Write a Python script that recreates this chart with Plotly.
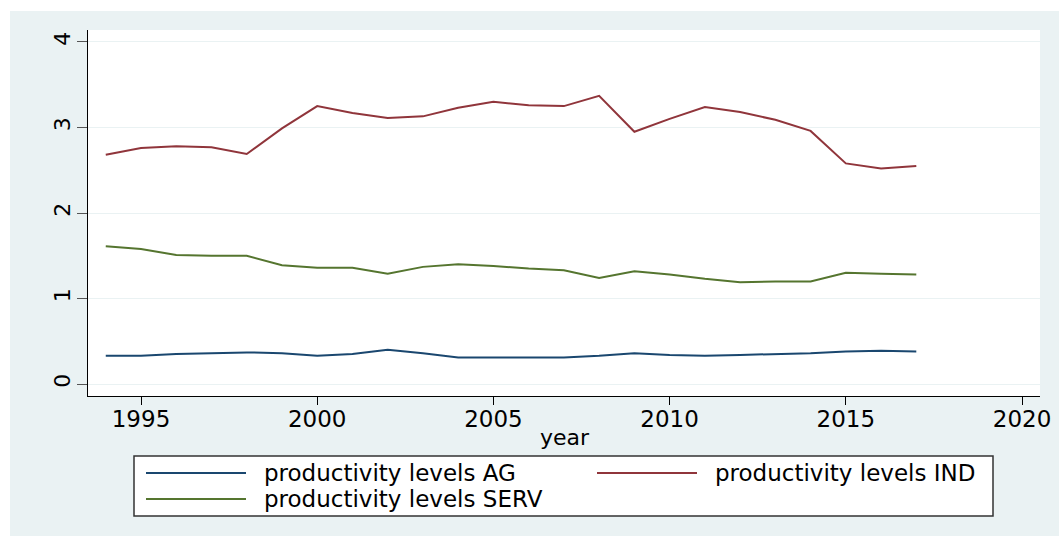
import plotly.graph_objects as go

years = list(range(1994, 2018))
ag = [0.33, 0.33, 0.35, 0.36, 0.37, 0.36, 0.33, 0.35, 0.40, 0.36, 0.31, 0.31,
      0.31, 0.31, 0.33, 0.36, 0.34, 0.33, 0.34, 0.35, 0.36, 0.38, 0.39, 0.38]
ind = [2.68, 2.76, 2.78, 2.77, 2.69, 2.99, 3.25, 3.17, 3.11, 3.13, 3.23, 3.30,
       3.26, 3.25, 3.37, 2.95, 3.10, 3.24, 3.18, 3.09, 2.96, 2.58, 2.52, 2.55]
serv = [1.61, 1.58, 1.51, 1.50, 1.50, 1.39, 1.36, 1.36, 1.29, 1.37, 1.40, 1.38,
        1.35, 1.33, 1.24, 1.32, 1.28, 1.23, 1.19, 1.20, 1.20, 1.30, 1.29, 1.28]

names = ["productivity levels AG", "productivity levels IND", "productivity levels SERV"]
colors = ["#1A476F", "#90353B", "#55752F"]

x_ticks = [1995, 2000, 2005, 2010, 2015, 2020]
y_ticks = [0, 1, 2, 3, 4]

FONT = "DejaVu Sans"
BG = "#EAF2F3"

fig = go.Figure()
for vals, nm, col in zip([ag, ind, serv], names, colors):
    fig.add_trace(go.Scatter(x=years, y=vals, mode="lines", name=nm,
                             line=dict(color=col, width=2), showlegend=False))

W, H = 1059, 536
L, R, T, B = 88, 19, 30, 140
pw, ph = W - L - R, H - T - B

def px_x(p):
    return (p - L) / pw

def px_y(p):
    return (H - B - p) / ph

# outer light background and white plot region
fig.add_shape(type="rect", xref="paper", yref="paper", layer="below",
              x0=px_x(10), x1=px_x(W + 5), y0=px_y(H + 5), y1=px_y(11),
              fillcolor=BG, line=dict(width=0))
fig.add_shape(type="rect", xref="paper", yref="paper", layer="below",
              x0=0, x1=1, y0=0, y1=1, fillcolor="white", line=dict(width=0))

# legend box (drawn manually, two columns)
fig.add_shape(type="rect", xref="paper", yref="paper", layer="above",
              x0=px_x(134), x1=px_x(993), y0=px_y(516), y1=px_y(456),
              fillcolor="white", line=dict(color="#333333", width=1.5))
leg_pos = [(146, 473), (597, 473), (146, 499)]
for (lx, ly), nm, col in zip(leg_pos, names, colors):
    fig.add_shape(type="line", xref="paper", yref="paper", layer="above",
                  x0=px_x(lx), x1=px_x(lx + 100), y0=px_y(ly), y1=px_y(ly),
                  line=dict(color=col, width=2))
    fig.add_annotation(xref="paper", yref="paper", x=px_x(lx + 116), y=px_y(ly),
                       xanchor="left", yanchor="middle", showarrow=False,
                       text=nm, font=dict(family=FONT, size=23, color="black"))

# x axis title
fig.add_annotation(xref="paper", yref="paper", x=px_x(565), y=px_y(437),
                   xanchor="center", yanchor="middle", showarrow=False,
                   text="year", font=dict(family=FONT, size=22, color="black"))

fig.update_layout(
    width=W, height=H,
    margin=dict(l=L, r=R, t=T, b=B, autoexpand=False),
    paper_bgcolor="white", plot_bgcolor="white",
    font=dict(family=FONT, color="black", size=20),
    showlegend=False,
    xaxis=dict(range=[1993.496, 2020.51], tickvals=x_ticks, ticks="outside",
               ticklen=8, tickcolor="black", showline=True, linecolor="black",
               linewidth=1, showgrid=False, zeroline=False, automargin=False,
               ticklabelstandoff=-6, tickfont=dict(size=23)),
    yaxis=dict(range=[-0.14, 4.14], tickvals=y_ticks, ticks="outside",
               ticklen=10, tickcolor="#555555", showline=True, linecolor="black",
               linewidth=1, showgrid=True, gridcolor=BG, gridwidth=1,
               zeroline=False, tickangle=-90, automargin=False,
               ticklabelstandoff=-2, tickfont=dict(size=22)),
)

fig.write_html("out.html")
